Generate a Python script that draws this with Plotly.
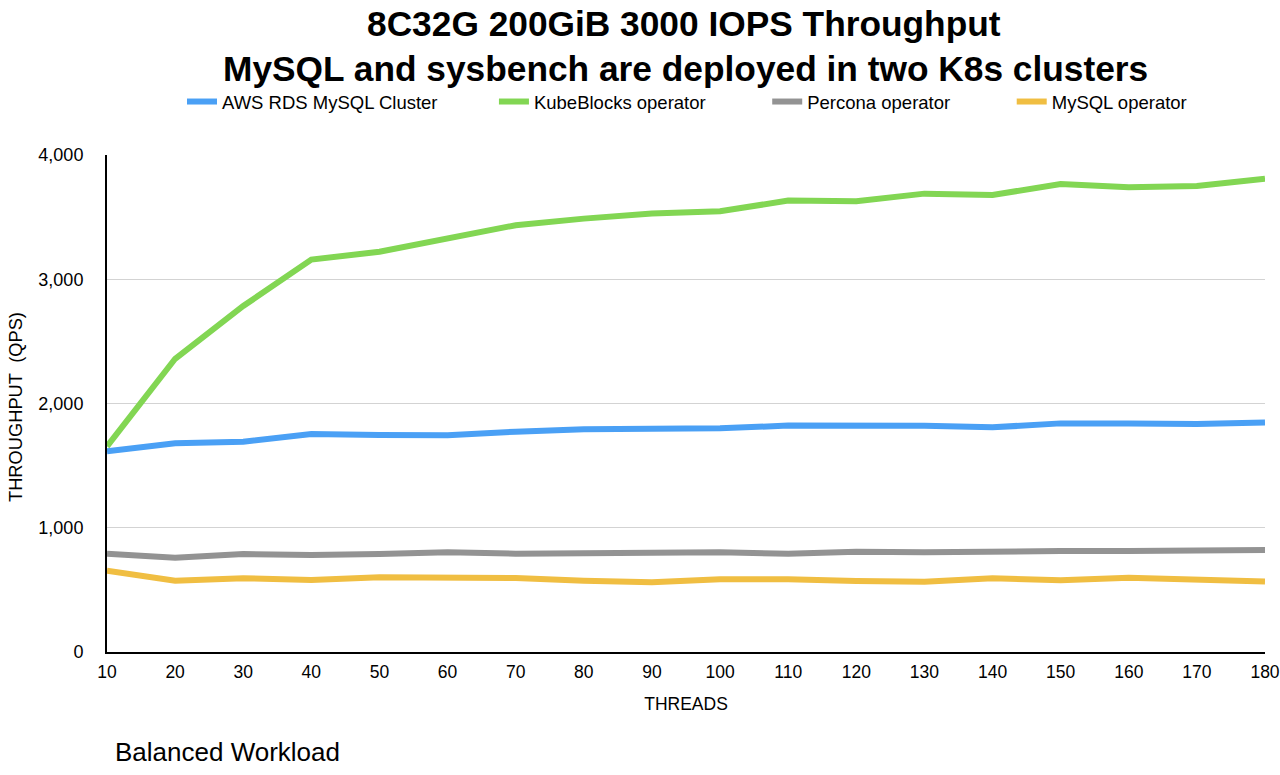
import plotly.graph_objects as go

threads = [10, 20, 30, 40, 50, 60, 70, 80, 90, 100, 110, 120, 130, 140, 150, 160, 170, 180]
aws_rds = [1615, 1680, 1693, 1755, 1747, 1745, 1773, 1792, 1797, 1800, 1822, 1824, 1820, 1808, 1840, 1840, 1835, 1848]
kubeblocks = [1655, 2360, 2785, 3158, 3222, 3330, 3435, 3488, 3530, 3547, 3633, 3627, 3689, 3678, 3767, 3740, 3750, 3810]
percona = [791, 759, 789, 781, 789, 802, 791, 797, 802, 802, 791, 807, 802, 810, 813, 813, 813, 821]
mysql_op = [654, 574, 593, 580, 601, 601, 596, 574, 561, 585, 585, 571, 565, 593, 577, 598, 580, 568]

series_names = ["AWS RDS MySQL Cluster", "KubeBlocks operator", "Percona operator", "MySQL operator"]
series_values = [aws_rds, kubeblocks, percona, mysql_op]
colors = ["#4AA0F5", "#82D653", "#939393", "#F0BE42"]

y_ticks = [0, 1000, 2000, 3000, 4000]

FONT = "Liberation Sans, Arial, Helvetica, sans-serif"
pads = [10, 11, 11, 0]

fig = go.Figure()
for name, vals, col, p in zip(series_names, series_values, colors, pads):
    fig.add_trace(go.Scatter(
        x=threads, y=vals, mode="lines", name=name + "\u00a0" * p,
        line=dict(color=col, width=6),
    ))

L, R, T, B = 107, 15, 155, 123
W, H = 1280, 775
pw = W - L - R
ph = H - T - B

def px_x(px):
    return (px - L) / pw

def px_y(py):
    return (H - B - py) / ph

fig.update_layout(
    width=W, height=H,
    margin=dict(l=L, r=R, t=T, b=B, autoexpand=False),
    paper_bgcolor="white", plot_bgcolor="white",
    font=dict(family=FONT, color="black", size=18),
    showlegend=True,
    legend=dict(
        orientation="h", x=px_x(182), xanchor="left", y=px_y(102), yanchor="middle",
        font=dict(size=18.5, family=FONT), itemwidth=30, bgcolor="rgba(0,0,0,0)",
        traceorder="normal",
    ),
    xaxis=dict(
        range=[10, 180], tickvals=threads, ticktext=[str(t) for t in threads],
        showgrid=False, zeroline=False, showline=True, linecolor="black", linewidth=2,
        ticks="", tickfont=dict(size=17.5), ticklabelstandoff=3,
        title=dict(text="THREADS", font=dict(size=17.5), standoff=17),
        automargin=False, fixedrange=True,
    ),
    yaxis=dict(
        range=[0, 4000], tickvals=y_ticks, tickformat=",",
        showgrid=True, gridcolor="#D3D3D3", gridwidth=1, zeroline=False,
        showline=True, linecolor="black", linewidth=2,
        ticks="", tickfont=dict(size=18), ticklabelstandoff=18,
        automargin=False, fixedrange=True,
    ),
    annotations=[
        dict(text="<b>8C32G 200GiB 3000 IOPS Throughput</b>", x=px_x(684), y=px_y(24), xref="paper", yref="paper",
             xanchor="center", yanchor="middle", showarrow=False, font=dict(size=35.3, family=FONT)),
        dict(text="<b>MySQL and sysbench are deployed in two K8s clusters</b>", x=px_x(685), y=px_y(68), xref="paper", yref="paper",
             xanchor="center", yanchor="middle", showarrow=False, font=dict(size=35.3, family=FONT)),
        dict(text="THROUGHPUT\u00a0\u00a0(QPS)", x=px_x(15), y=px_y(407), xref="paper", yref="paper",
             xanchor="center", yanchor="middle", textangle=-90, showarrow=False,
             font=dict(size=18.3, family=FONT)),
        dict(text="Balanced Workload", x=px_x(113), y=px_y(752), xref="paper", yref="paper",
             xanchor="left", yanchor="middle", showarrow=False, font=dict(size=26, family=FONT)),
    ],
)

fig.write_html(
    "out.html",
    config={"displayModeBar": False},
    post_script="document.body.style.margin='0';document.body.style.overflow='hidden';",
)
